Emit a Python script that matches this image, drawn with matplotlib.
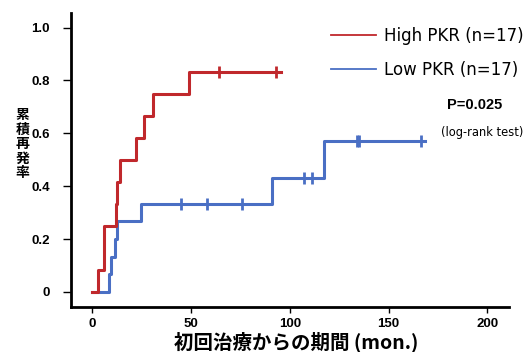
import matplotlib
matplotlib.use("Agg")
import matplotlib.pyplot as plt

# Kaplan-Meier style cumulative recurrence curves
high_t = [0, 3, 5.6, 11.7, 12.3, 13.7, 21.8, 25.9, 30.6, 48.9, 95.5]
high_v = [0, 0.083, 0.25, 0.333, 0.417, 0.5, 0.583, 0.667, 0.75, 0.833, 0.833]
high_cens_t = [64, 93]
high_cens_v = [0.833, 0.833]

low_t = [0, 8.3, 9.5, 11.2, 12.3, 24.5, 91, 117.3, 168.5]
low_v = [0, 0.067, 0.133, 0.2, 0.267, 0.333, 0.429, 0.571, 0.571]
low_cens_t = [45, 58, 76, 107, 111, 134, 135, 166.5]
low_cens_v = [0.333, 0.333, 0.333, 0.429, 0.429, 0.571, 0.571, 0.571]

labels = ["High PKR (n=17)", "Low PKR (n=17)"]
x_ticks = [0, 50, 100, 150, 200]
y_ticks = [0, 0.2, 0.4, 0.6, 0.8, 1.0]
y_ticklabels = ["0", "0.2", "0.4", "0.6", "0.8", "1.0"]

red = "#c0282c"
blue = "#4a6fc4"
jp = ["Noto Sans CJK JP", "DejaVu Sans"]
lat = ["Liberation Sans", "DejaVu Sans"]

fig = plt.figure(figsize=(5.28, 3.52), dpi=100)
ax = fig.add_axes([0.134, 0.128, 0.83, 0.835])

ax.step(low_t, low_v, where="post", color=blue, lw=2.2)
ax.step(high_t, high_v, where="post", color=red, lw=2.2)
ax.plot(low_cens_t, low_cens_v, ls="none", marker="|", ms=8, mew=2, color=blue)
ax.plot(high_cens_t, high_cens_v, ls="none", marker="|", ms=8, mew=2, color=red)

# legend handles (thin lines)
h1, = ax.plot([], [], color=red, lw=1.3)
h2, = ax.plot([], [], color=blue, lw=1.3)
ax.legend([h1, h2], labels, loc="upper left", bbox_to_anchor=(0.579, 0.975),
          frameon=False, handlelength=2.7, handletextpad=0.5, labelspacing=0.95,
          prop={"family": "DejaVu Sans", "size": 12}, borderaxespad=0)

ax.text(0.858, 0.687, "P=0.025", transform=ax.transAxes, fontsize=10.5,
        family=lat, fontweight="bold", va="center", ha="left")
ax.text(0.845, 0.595, "(log-rank test)", transform=ax.transAxes, fontsize=8.3,
        family="DejaVu Sans", va="center", ha="left")

ax.set_xlim(-11, 211)
ax.set_ylim(-0.057, 1.055)
ax.set_xticks(x_ticks)
ax.set_yticks(y_ticks)
ax.set_yticklabels(y_ticklabels)
for lab in ax.get_xticklabels() + ax.get_yticklabels():
    lab.set_family(lat)
    lab.set_fontweight("bold")
    lab.set_fontsize(9.5)

ax.spines["top"].set_visible(False)
ax.spines["right"].set_visible(False)
ax.spines["left"].set_linewidth(2)
ax.spines["bottom"].set_linewidth(2)
ax.tick_params(axis="y", length=6, width=1, pad=9)
ax.tick_params(axis="x", length=4, width=1, pad=4)

fig.text(0.561, 0.028, "初回治療からの期間 (mon.)", fontsize=14, family=jp,
         fontweight="bold", ha="center", va="center")
fig.text(0.042, 0.59, "\n".join("累積再発率"), fontsize=10, family=jp,
         fontweight="bold", ha="center", va="center", linespacing=1.05)

fig.savefig("out.png", dpi=100)
